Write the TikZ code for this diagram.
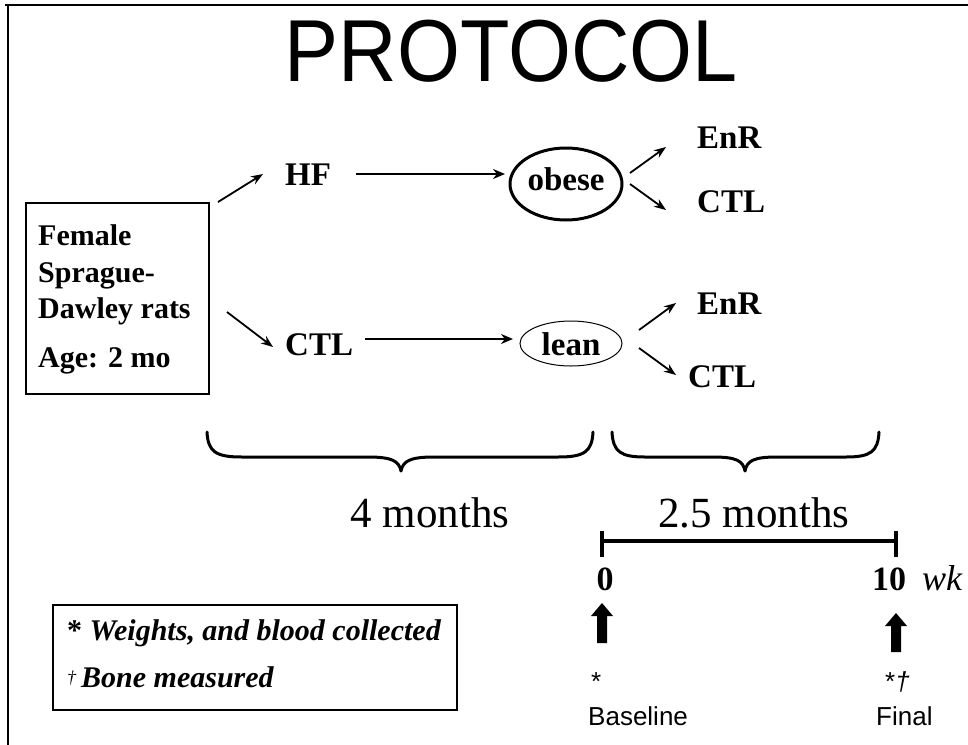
\documentclass[tikz,border=0pt]{standalone}
\usepackage{fontspec}
\setmainfont{Liberation Serif}
\newfontfamily\arialf{Liberation Sans}
\usetikzlibrary{arrows.meta,shapes.geometric}
\begin{document}
\begin{tikzpicture}[x=1pt,y=-1pt,
  lbl/.style={font=\fontsize{33}{36}\selectfont\bfseries, anchor=base west, inner sep=0pt},
  boxtxt/.style={font=\fontsize{30}{34}\selectfont\bfseries, anchor=base west, inner sep=0pt},
  legtxt/.style={font=\fontsize{30}{34}\selectfont\bfseries\itshape, anchor=base west, inner sep=0pt},
  months/.style={font=\fontsize{43}{46}\selectfont, anchor=base, inner sep=0pt},
  wklbl/.style={font=\fontsize{34}{36}\selectfont\bfseries, anchor=base, inner sep=0pt},
  sans/.style={font=\arialf\fontsize{26}{30}\selectfont, anchor=base west, inner sep=0pt},
  arr/.style={-{Stealth[length=12pt,width=9pt]}, line width=1.8pt},
  thickarr/.style={-{Stealth[length=12pt,width=10pt]}, line width=2.8pt},
  brace/.style={line width=3pt, line cap=round, line join=round},
  frame/.style={line width=2pt},
  blockarr/.style={fill=black}
]
\clip (0,0) rectangle (968,744);
% outer frame
\draw[frame] (5,5) -- (990,5);
\draw[frame] (8,4) -- (8,760);

% title
\node[anchor=base, inner sep=0pt, font=\arialf\fontsize{88}{92}\selectfont] (title) at (511,81) {\scalebox{0.92}[1]{PROTOCOL}};

% start box
\node[draw, line width=1.5pt, minimum width=183pt, minimum height=191pt, inner sep=0pt, anchor=north west] (box) at (25,202) {};
\node[boxtxt] (t1) at (38,245) {Female};
\node[boxtxt] (t2) at (38,282) {Sprague-};
\node[boxtxt] (t3) at (38,318) {Dawley rats};
\node[boxtxt] (t4) at (38,367) {Age: 2 mo};

% groups
\node[lbl] (HF) at (285,185) {HF};
\node[lbl] (CTL) at (285,355) {CTL};
\node[draw, ellipse, line width=3pt, minimum width=112pt, minimum height=72pt, inner sep=0pt] (obese) at (566,184) {};
\node[lbl, anchor=base] (obt) at (566,190) {obese};
\node[draw, ellipse, line width=1pt, minimum width=102pt, minimum height=45pt, inner sep=0pt] (lean) at (571,343.5) {};
\node[lbl, anchor=base] (lnt) at (571,355) {lean};

\node[lbl] (EnR1) at (697,148) {EnR};
\node[lbl] (CTL1) at (697,212) {CTL};
\node[lbl] (EnR2) at (697,314) {EnR};
\node[lbl] (CTL2) at (688,387) {CTL};

% arrow end points
\coordinate (bHFs) at (218,202);
\coordinate (bHFe) at (263,174);
\coordinate (bCs) at (227,312);
\coordinate (bCe) at (273,347);
\coordinate (hfs) at (356,174);
\coordinate (obw) at (505,174);
\coordinate (cts) at (365,339);
\coordinate (lnw) at (513,339);
\coordinate (o1s) at (630,173);
\coordinate (o1e) at (666,147);
\coordinate (o2s) at (630,184);
\coordinate (o2e) at (666,210);
\coordinate (l1s) at (639,330);
\coordinate (l1e) at (676,303);
\coordinate (l2s) at (639,348);
\coordinate (l2e) at (676,375);

\draw[arr] (bHFs) -- (bHFe);
\draw[arr] (bCs) -- (bCe);
\draw[thickarr] (hfs) -- (obw);
\draw[thickarr] (cts) -- (lnw);
\draw[arr] (o1s) -- (o1e);
\draw[arr] (o2s) -- (o2e);
\draw[arr] (l1s) -- (l1e);
\draw[arr] (l2s) -- (l2e);

% braces
\draw[brace] (207,432) .. controls (208,452) and (216,457) .. (242,457) -- (368,457)
  .. controls (392,457) and (399,461) .. (401,471)
  .. controls (403,461) and (410,457) .. (434,457) -- (558,457)
  .. controls (584,457) and (592,452) .. (593,432);
\draw[brace] (612,432) .. controls (613,452) and (621,457) .. (645,457) -- (713,457)
  .. controls (737,457) and (743,461) .. (745,471)
  .. controls (747,461) and (753,457) .. (777,457) -- (846,457)
  .. controls (870,457) and (878,452) .. (879,432);
\node[months] (m4) at (430,527) {4 months};
\node[months] (m25) at (754,527) {2.5 months};

% timeline
\coordinate (tl0) at (602,541);
\coordinate (tl10) at (896,541);
\draw[line width=4pt] (tl0) -- (tl10);
\draw[line width=4pt] (602,531) -- (602,557);
\draw[line width=4pt] (896,531) -- (896,557);
\node[wklbl] (w0) at (605,590) {0};
\node[wklbl] (w10) at (889,590) {10};
\node[font=\fontsize{36}{38}\selectfont\itshape, anchor=base west, inner sep=0pt] (wk) at (922,590) {wk};

% block arrows
\fill[blockarr] (602,603) -- (613,616) -- (607,616) -- (607,643) -- (597,643) -- (597,616) -- (591,616) -- cycle;
\fill[blockarr] (896,613) -- (907,626) -- (901,626) -- (901,652) -- (891,652) -- (891,626) -- (885,626) -- cycle;

\node[sans] (s0) at (591,690) {*};
\node[sans] (s10) at (885,690) {*\textit{†}};
\node[sans] (bl) at (588,725) {Baseline};
\node[sans] (fn) at (876,725) {Final};

% legend
\node[draw, line width=1.5pt, minimum width=404pt, minimum height=105pt, inner sep=0pt, anchor=north west] (leg) at (52,604) {};
\node[legtxt] (lg1) at (67,640) {\upshape*\itshape\ Weights, and blood collected};
\node[legtxt] (lg2) at (67,687) {\raisebox{4pt}{\fontsize{18}{20}\selectfont\mdseries †}\,Bone measured};
\end{tikzpicture}
\end{document}
